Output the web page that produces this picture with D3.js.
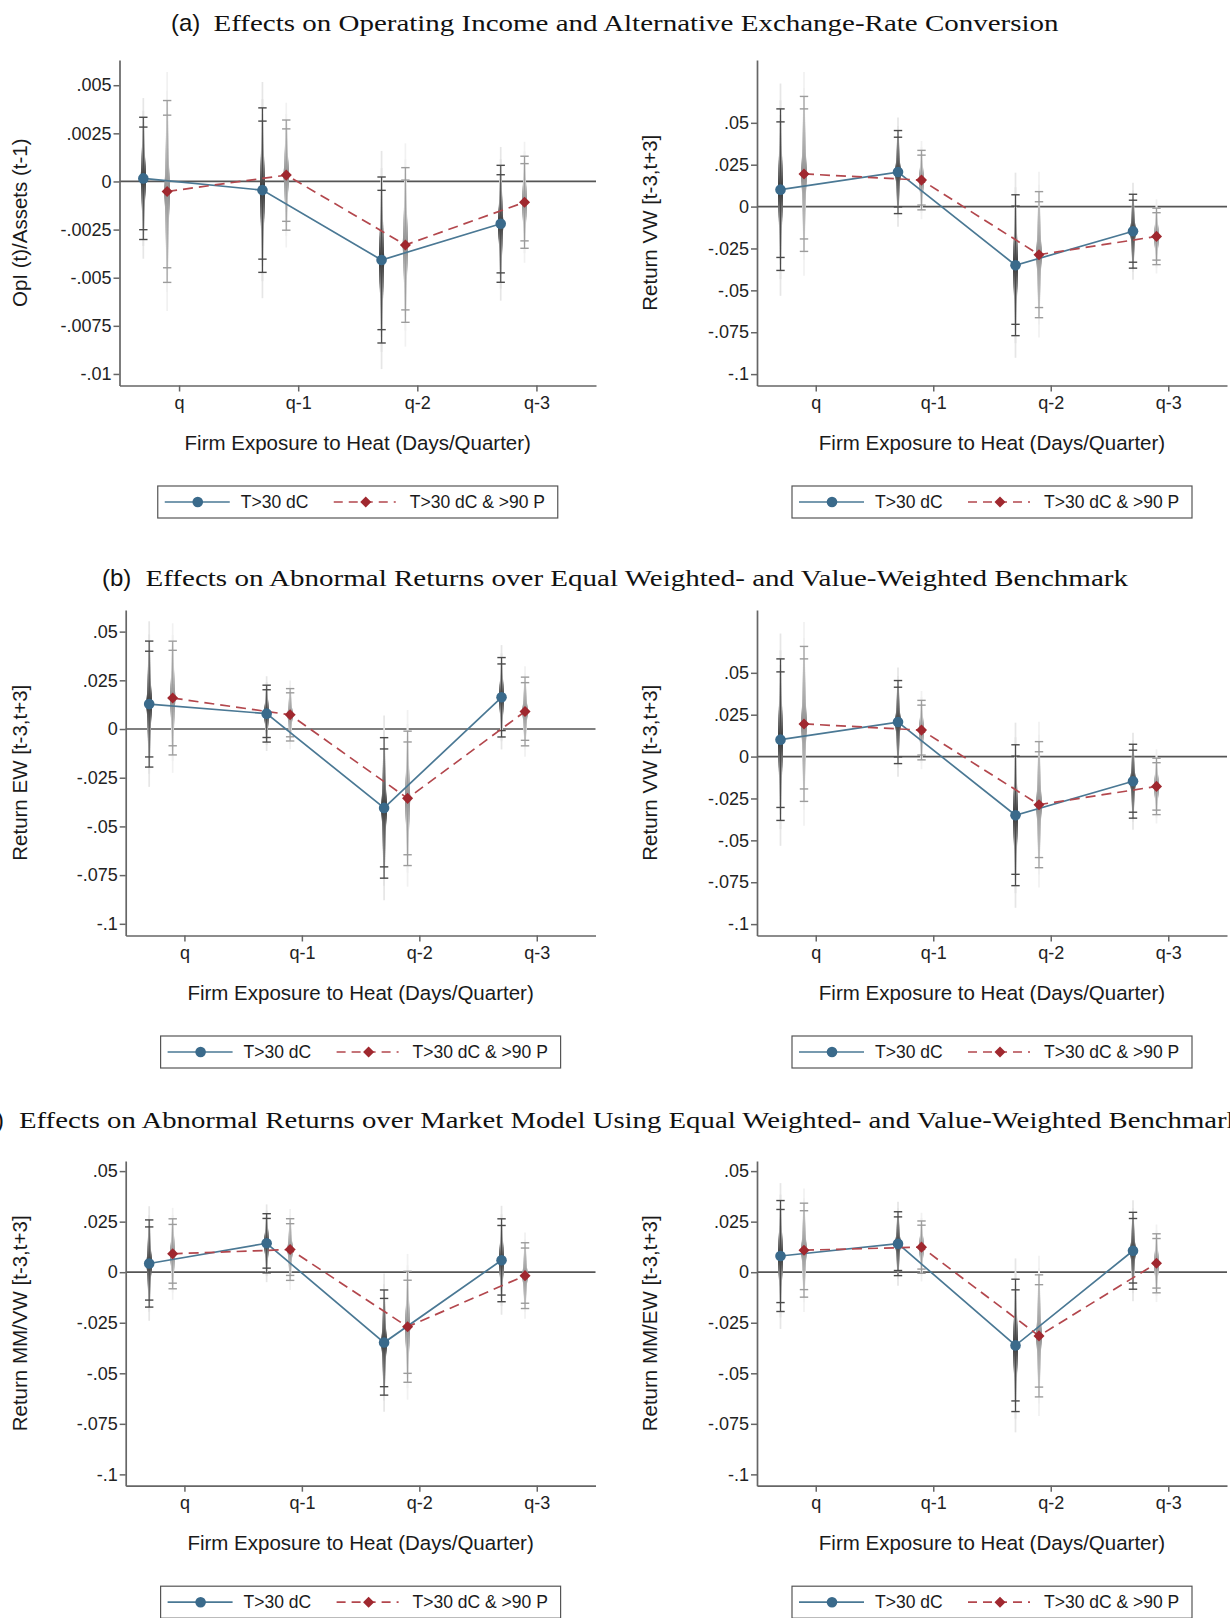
<!DOCTYPE html>
<html>
<head>
<meta charset="utf-8">
<script src="https://cdn.jsdelivr.net/npm/d3@7"></script>
<style>
  body { margin: 0; background: #fff; }
  svg { display: block; }
</style>
</head>
<body>
<svg id="fig" width="1230" height="1618"></svg>
<script>
// ---- data ---------------------------------------------------------------
const categories = ["q", "q-1", "q-2", "q-3"];
const seriesLabels = ["T>30 dC", "T>30 dC & >90 P"];

// Operating income / lagged assets
const opiCoefHot   = [0.00016, -0.00045, -0.00408, -0.0022];
const opiSeHot     = [0.00162, 0.00218, 0.0022, 0.00155];
const opiCoefHumid = [-0.00052, 0.00033, -0.0033, -0.00108];
const opiSeHumid   = [0.00241, 0.00146, 0.00205, 0.00122];

// Abnormal return, value-weighted benchmark
const vwCoefHot   = [0.0101, 0.0206, -0.0350, -0.0147];
const vwSeHot     = [0.0246, 0.01265, 0.02145, 0.01125];
const vwCoefHumid = [0.0195, 0.0158, -0.0287, -0.0178];
const vwSeHumid   = [0.0236, 0.00906, 0.0192, 0.0086];

// Abnormal return, equal-weighted benchmark
const ewCoefHot   = [0.0128, 0.0079, -0.0405, 0.0163];
const ewSeHot     = [0.0165, 0.00745, 0.0184, 0.0104];
const ewCoefHumid = [0.0159, 0.0073, -0.0356, 0.0090];
const ewSeHumid   = [0.0149, 0.00686, 0.0176, 0.0090];

// Market-model abnormal return, VW market
const mmvwCoefHot   = [0.0043, 0.0143, -0.0348, 0.0059];
const mmvwSeHot     = [0.0110, 0.00747, 0.01327, 0.01046];
const mmvwCoefHumid = [0.0091, 0.0112, -0.0270, -0.0017];
const mmvwSeHumid   = [0.00883, 0.00778, 0.0140, 0.0083];

// Market-model abnormal return, EW market
const mmewCoefHot   = [0.0080, 0.0141, -0.0362, 0.0106];
const mmewSeHot     = [0.0140, 0.00806, 0.0167, 0.0097];
const mmewCoefHumid = [0.0109, 0.0124, -0.0315, 0.0044];
const mmewSeHumid   = [0.01186, 0.0066, 0.0154, 0.00745];

const opiTicks = [0.005, 0.0025, 0, -0.0025, -0.005, -0.0075, -0.01];
const opiTickLabels = [".005", ".0025", "0", "-.0025", "-.005", "-.0075", "-.01"];
const retTicks = [0.05, 0.025, 0, -0.025, -0.05, -0.075, -0.1];
const retTickLabels = [".05", ".025", "0", "-.025", "-.05", "-.075", "-.1"];

// ---- styling ------------------------------------------------------------
const SANS = "'Liberation Sans', Arial, Helvetica, sans-serif";
const SERIF = "'Liberation Serif', 'Times New Roman', serif";
const seriesOffset = [-0.3, -0.1];
const smoothDark = ["#2e2e2e", "#888888"];
const capColor = ["#4a4a4a", "#9c9c9c"];
const lineColor = ["#4a7894", "#b3474d"];
const markColor = ["#3a6a8b", "#a0282f"];

const titleRows = [
  { label: "(a)", text: "Effects on Operating Income and Alternative Exchange-Rate Conversion", x: 171, serifX: 213.5, len: 845, base: 31 },
  { label: "(b)", text: "Effects on Abnormal Returns over Equal Weighted- and Value-Weighted Benchmark", x: 102, serifX: 145.5, len: 982.5, base: 586 },
  { label: "(c)", text: "Effects on Abnormal Returns over Market Model Using Equal Weighted- and Value-Weighted Benchmark", x: -24, serifX: 19, len: 1222, base: 1128 }
];

const panels = [
  { x0: 119.5, x1: 596, y0: 60, y1: 385.5, domain: [-0.0106, 0.00631], ticks: opiTicks, tickLabels: opiTickLabels,
    yTitle: "OpI (t)/Assets (t-1)", titleX: 27.3, coefs: [opiCoefHot, opiCoefHumid], ses: [opiSeHot, opiSeHumid] },
  { x0: 757, x1: 1227, y0: 60, y1: 385.5, domain: [-0.1068, 0.0875], ticks: retTicks, tickLabels: retTickLabels,
    yTitle: "Return VW [t-3,t+3]", titleX: 657, coefs: [vwCoefHot, vwCoefHumid], ses: [vwSeHot, vwSeHumid] },
  { x0: 125.7, x1: 595.5, y0: 610, y1: 935.5, domain: [-0.106, 0.0611], ticks: retTicks, tickLabels: retTickLabels,
    yTitle: "Return EW [t-3,t+3]", titleX: 27.3, coefs: [ewCoefHot, ewCoefHumid], ses: [ewSeHot, ewSeHumid] },
  { x0: 757, x1: 1227, y0: 610, y1: 935.5, domain: [-0.1068, 0.0875], ticks: retTicks, tickLabels: retTickLabels,
    yTitle: "Return VW [t-3,t+3]", titleX: 657, coefs: [vwCoefHot, vwCoefHumid], ses: [vwSeHot, vwSeHumid] },
  { x0: 125.7, x1: 595.5, y0: 1161, y1: 1485.7, domain: [-0.1056, 0.055], ticks: retTicks, tickLabels: retTickLabels,
    yTitle: "Return MM/VW [t-3,t+3]", titleX: 27.3, coefs: [mmvwCoefHot, mmvwCoefHumid], ses: [mmvwSeHot, mmvwSeHumid] },
  { x0: 757, x1: 1227, y0: 1161, y1: 1485.7, domain: [-0.1056, 0.055], ticks: retTicks, tickLabels: retTickLabels,
    yTitle: "Return MM/EW [t-3,t+3]", titleX: 657, coefs: [mmewCoefHot, mmewCoefHumid], ses: [mmewSeHot, mmewSeHumid] }
];

// inverse standard normal CDF (Acklam)
function invNorm(p) {
  const a = [-3.969683028665376e+01, 2.209460984245205e+02, -2.759285104469687e+02, 1.383577518672690e+02, -3.066479806614716e+01, 2.506628277459239e+00];
  const b = [-5.447609879822406e+01, 1.615858368580409e+02, -1.556989798598866e+02, 6.680131188771972e+01, -1.328068155288572e+01];
  const c = [-7.784894002430293e-03, -3.223964580411365e-01, -2.400758277161838e+00, -2.549671324283481e+00, 4.374664141464968e+00, 2.938163982698783e+00];
  const d = [7.784695709041462e-03, 3.224671290700398e-01, 2.445134137142996e+00, 3.754408661907416e+00];
  const pl = 0.02425;
  let q, r;
  if (p < pl) {
    q = Math.sqrt(-2 * Math.log(p));
    return (((((c[0] * q + c[1]) * q + c[2]) * q + c[3]) * q + c[4]) * q + c[5]) / ((((d[0] * q + d[1]) * q + d[2]) * q + d[3]) * q + 1);
  }
  if (p <= 1 - pl) {
    q = p - 0.5; r = q * q;
    return (((((a[0] * r + a[1]) * r + a[2]) * r + a[3]) * r + a[4]) * r + a[5]) * q / (((((b[0] * r + b[1]) * r + b[2]) * r + b[3]) * r + b[4]) * r + 1);
  }
  q = Math.sqrt(-2 * Math.log(1 - p));
  return -(((((c[0] * q + c[1]) * q + c[2]) * q + c[3]) * q + c[4]) * q + c[5]) / ((((d[0] * q + d[1]) * q + d[2]) * q + d[3]) * q + 1);
}

// smoothed confidence bands: 50 levels, drawn widest interval first
const smoothLevels = d3.range(99, 0, -2);
const capLevels = [95, 90];
function smoothWidth(lv) { return 5.4 - 3.7 * (lv - 1) / 98; }
function smoothIntensity(lv) { return 1 - 0.88 * (lv - 1) / 98; }

const svg = d3.select("#fig");
svg.append("rect").attr("width", 1230).attr("height", 1618).attr("fill", "#fff");

// row titles
titleRows.forEach(t => {
  svg.append("text").attr("x", t.x).attr("y", t.base)
    .attr("font-family", SANS).attr("font-size", 24).attr("fill", "#111").text(t.label);
  svg.append("text").attr("x", t.serifX).attr("y", t.base)
    .attr("font-family", SERIF).attr("font-size", 23).attr("fill", "#111")
    .attr("textLength", t.len).attr("lengthAdjust", "spacingAndGlyphs").text(t.text);
});

panels.forEach(drawPanel);

function drawPanel(p) {
  const g = svg.append("g");
  const x = d3.scaleLinear().domain([0.5, 4.5]).range([p.x0, p.x1]);
  const y = d3.scaleLinear().domain(p.domain).range([p.y1, p.y0]);

  // reference line at zero
  g.append("line").attr("x1", p.x0).attr("x2", p.x1).attr("y1", y(0)).attr("y2", y(0))
    .attr("stroke", "#555").attr("stroke-width", 1.7);

  const pts = [0, 1].map(s => categories.map((c, i) => ({
    s, i, b: p.coefs[s][i], se: p.ses[s][i], cx: x(i + 1 + seriesOffset[s])
  })));

  // smoothed CI spindles
  [0, 1].forEach(s => {
    const col = d3.interpolateRgb("#ffffff", smoothDark[s]);
    pts[s].forEach(d => {
      g.append("g").selectAll("line").data(smoothLevels).join("line")
        .attr("x1", d.cx).attr("x2", d.cx)
        .attr("y1", lv => y(d.b + invNorm(0.5 + lv / 200) * d.se))
        .attr("y2", lv => y(d.b - invNorm(0.5 + lv / 200) * d.se))
        .attr("stroke", lv => col(smoothIntensity(lv)))
        .attr("stroke-width", lv => smoothWidth(lv));
    });
  });

  // capped 95% and 90% intervals
  [0, 1].forEach(s => {
    pts[s].forEach(d => {
      const z95 = invNorm(0.975);
      g.append("line").attr("x1", d.cx).attr("x2", d.cx)
        .attr("y1", y(d.b + z95 * d.se)).attr("y2", y(d.b - z95 * d.se))
        .attr("stroke", capColor[s]).attr("stroke-width", 1.1);
      capLevels.forEach(lv => {
        const z = invNorm(0.5 + lv / 200);
        [1, -1].forEach(sg => {
          g.append("line").attr("x1", d.cx - 4.2).attr("x2", d.cx + 4.2)
            .attr("y1", y(d.b + sg * z * d.se)).attr("y2", y(d.b + sg * z * d.se))
            .attr("stroke", capColor[s]).attr("stroke-width", 1.4);
        });
      });
    });
  });

  // connecting lines
  const line = d3.line().x(d => d.cx).y(d => y(d.b));
  g.append("path").datum(pts[0]).attr("d", line).attr("fill", "none")
    .attr("stroke", lineColor[0]).attr("stroke-width", 1.7);
  g.append("path").datum(pts[1]).attr("d", line).attr("fill", "none")
    .attr("stroke", lineColor[1]).attr("stroke-width", 1.7).attr("stroke-dasharray", "10,6");

  // markers
  g.selectAll("circle.m").data(pts[0]).join("circle")
    .attr("cx", d => d.cx).attr("cy", d => y(d.b)).attr("r", 5.3).attr("fill", markColor[0]);
  g.selectAll("path.m").data(pts[1]).join("path")
    .attr("transform", d => `translate(${d.cx},${y(d.b)})`)
    .attr("d", d3.symbol(d3.symbolDiamond2, 78)()).attr("fill", markColor[1]);

  // axes
  const yAxis = d3.axisLeft(y).tickValues(p.ticks).tickFormat((d, i) => p.tickLabels[i])
    .tickSize(6).tickSizeOuter(0).tickPadding(2);
  const ya = g.append("g").attr("transform", `translate(${p.x0},0)`).call(yAxis);
  const xAxis = d3.axisBottom(x).tickValues([1, 2, 3, 4]).tickFormat(d => categories[d - 1])
    .tickSize(6).tickSizeOuter(0).tickPadding(5);
  const xa = g.append("g").attr("transform", `translate(0,${p.y1})`).call(xAxis);
  [ya, xa].forEach(a => {
    a.select(".domain").attr("stroke", "#666").attr("stroke-width", 1.7);
    a.selectAll(".tick line").attr("stroke", "#666").attr("stroke-width", 1.5);
    a.selectAll(".tick text").attr("font-family", SANS).attr("font-size", 18).attr("fill", "#222");
  });

  // axis titles
  g.append("text").attr("transform", `translate(${p.titleX},${(p.y0 + p.y1) / 2}) rotate(-90)`)
    .attr("text-anchor", "middle").attr("font-family", SANS).attr("font-size", 20.5).attr("fill", "#1a1a1a")
    .text(p.yTitle);
  const cx = (p.x0 + p.x1) / 2;
  g.append("text").attr("x", cx).attr("y", p.y1 + 64.5).attr("text-anchor", "middle")
    .attr("font-family", SANS).attr("font-size", 20.5).attr("fill", "#1a1a1a")
    .text("Firm Exposure to Heat (Days/Quarter)");

  // legend
  const lx = cx - 200, ly = p.y1 + 100.5;
  const lg = g.append("g").attr("transform", `translate(${lx},${ly})`);
  lg.append("rect").attr("width", 400).attr("height", 32).attr("fill", "#fff")
    .attr("stroke", "#555").attr("stroke-width", 1.2);
  lg.append("line").attr("x1", 7).attr("x2", 72).attr("y1", 16).attr("y2", 16)
    .attr("stroke", lineColor[0]).attr("stroke-width", 1.7);
  lg.append("circle").attr("cx", 40).attr("cy", 16).attr("r", 5.3).attr("fill", markColor[0]);
  lg.append("text").attr("x", 83).attr("y", 22.2).attr("font-family", SANS).attr("font-size", 17.5)
    .attr("fill", "#1a1a1a").text(seriesLabels[0]);
  lg.append("line").attr("x1", 176).attr("x2", 238).attr("y1", 16).attr("y2", 16)
    .attr("stroke", lineColor[1]).attr("stroke-width", 1.7).attr("stroke-dasharray", "9,6");
  lg.append("path").attr("transform", "translate(208,16)")
    .attr("d", d3.symbol(d3.symbolDiamond2, 78)()).attr("fill", markColor[1]);
  lg.append("text").attr("x", 252).attr("y", 22.2).attr("font-family", SANS).attr("font-size", 17.5)
    .attr("fill", "#1a1a1a").text(seriesLabels[1]);
}
</script>
</body>
</html>
